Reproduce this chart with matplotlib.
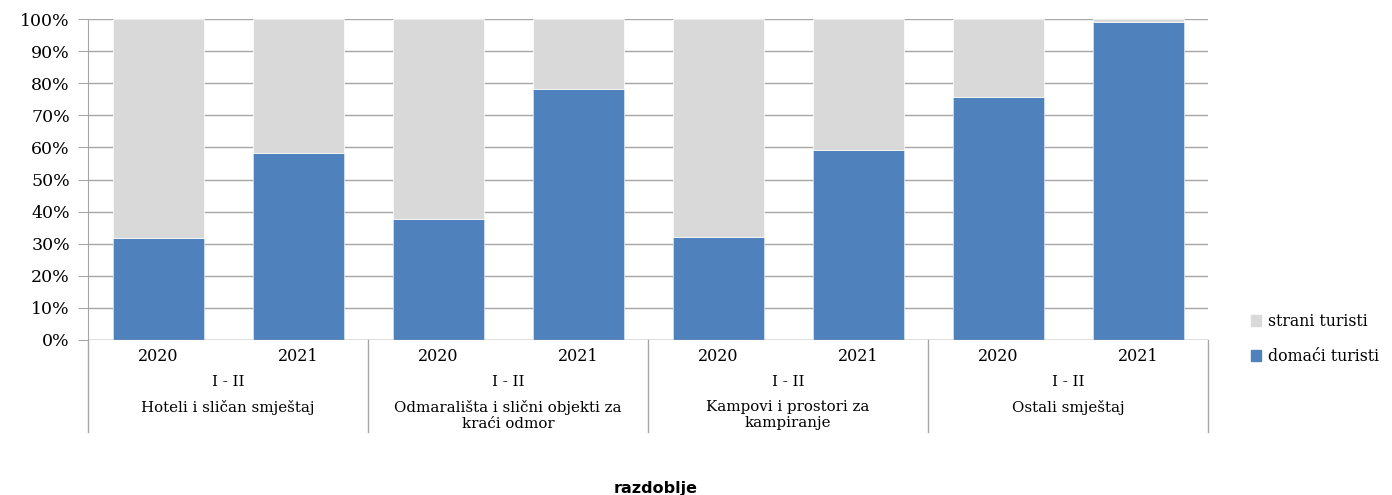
import matplotlib
matplotlib.use("Agg")
import matplotlib.pyplot as plt
from matplotlib.patches import Patch
from matplotlib.ticker import PercentFormatter

groups = ["Hoteli i sličan smještaj", "Odmarališta i slični objekti za\nkraći odmor",
          "Kampovi i prostori za\nkampiranje", "Ostali smještaj"]
years = ["2020", "2021"]
period = "I - II"
domaci = [31.8, 58.3, 37.7, 78.2, 32.1, 59.2, 75.7, 99.1]
strani = [100 - v for v in domaci]

blue = "#4f81bd"
grey = "#d9d9d9"
gridc = "#a6a6a6"

fig = plt.figure(figsize=(13.92, 4.95), dpi=100)
ax = fig.add_axes([88/1392, 155/495, 1120/1392, 321/495])

x = list(range(len(domaci)))
ax.bar(x, domaci, width=0.65, color=blue, edgecolor="#dce6f2", linewidth=0.5, zorder=2)
ax.bar(x, strani, width=0.65, bottom=domaci, color=grey, edgecolor="white", linewidth=0.5, zorder=2)

ax.set_xlim(-0.5, len(domaci) - 0.5)
ax.set_ylim(0, 100)
ax.set_yticks(range(0, 101, 10))
ax.yaxis.set_major_formatter(PercentFormatter(decimals=0))
ax.yaxis.grid(True, color=gridc, linewidth=1, zorder=0)
ax.set_axisbelow(True)
ax.set_xticks([])
for s in ["top", "right", "bottom"]:
    ax.spines[s].set_visible(False)
ax.spines["left"].set_color(gridc)
ax.tick_params(axis="y", length=7, color=gridc, labelsize=12.5, pad=6)
for lab in ax.get_yticklabels():
    lab.set_fontfamily("DejaVu Serif")
ax.axhline(0, color=gridc, linewidth=1, zorder=3)

tr = ax.get_xaxis_transform()
serif = "DejaVu Serif"
fs = 10.8
for i, xi in enumerate(x):
    ax.text(xi, -0.05, years[i % 2], transform=tr, ha="center", va="center",
            fontsize=11.5, family=serif)
for g, name in enumerate(groups):
    c = 2 * g + 0.5
    ax.text(c, -0.131, period, transform=tr, ha="center", va="center", fontsize=fs, family=serif)
    ax.text(c, -0.188, name, transform=tr, ha="center", va="top", fontsize=fs, family=serif,
            linespacing=1.15)
for b in range(len(groups) + 1):
    ax.plot([2 * b - 0.5] * 2, [0, -0.287], transform=tr, color=gridc, linewidth=1,
            clip_on=False)

handles = [Patch(color=grey, label="strani turisti"), Patch(color=blue, label="domaći turisti")]
fig.legend(handles=handles, loc="center left", bbox_to_anchor=(1237/1392, 1 - 339/495),
           frameon=False, handlelength=0.65, handleheight=0.65, handletextpad=0.45,
           labelspacing=1.15, prop={"family": serif, "size": 11.3})

fig.text(656/1392, 1 - 488/495, "razdoblje", ha="center", va="center", fontsize=11.5,
         fontweight="bold", family="DejaVu Sans")

fig.savefig("out.png", dpi=100)
